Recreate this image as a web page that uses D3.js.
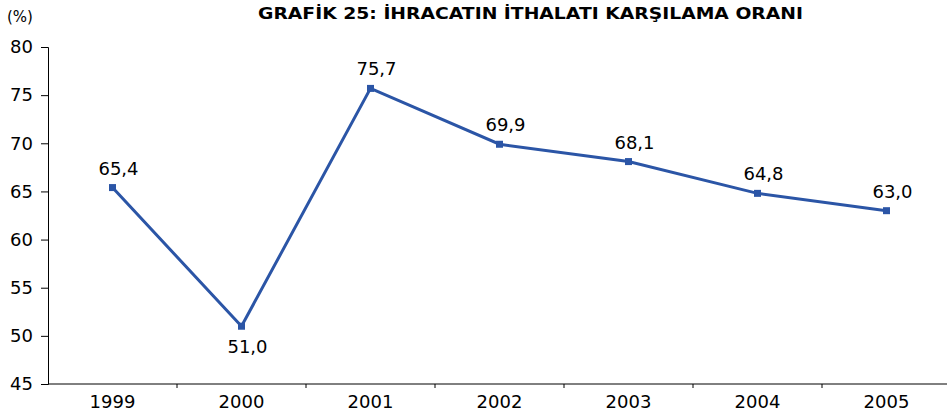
<!DOCTYPE html>
<html>
<head>
<meta charset="utf-8">
<script src="https://cdn.jsdelivr.net/npm/d3@7"></script>
<style>
  body { margin: 0; background: #fff; }
  text { font-family: "DejaVu Sans", Verdana, sans-serif; }
</style>
</head>
<body>
<div id="chart"></div>
<script>
// Export/import coverage ratio (%)
const years = ["1999", "2000", "2001", "2002", "2003", "2004", "2005"];
const ratio = [65.4, 51.0, 75.7, 69.9, 68.1, 64.8, 63.0];
const yTicks = [45, 50, 55, 60, 65, 70, 75, 80];

const width = 947, height = 416;
const font = "'DejaVu Sans', Verdana, sans-serif";

const svg = d3.select("#chart")
  .append("svg")
  .attr("width", width)
  .attr("height", height);

const x = d3.scaleBand()
  .domain(years)
  .range([48, 951]);

const y = d3.scaleLinear()
  .domain([45, 80])
  .range([384, 47]);

// title and unit
svg.append("text")
  .attr("x", 258)
  .attr("y", 19)
  .attr("font-size", "15.5px")
  .attr("font-weight", "bold")
  .attr("textLength", 545)
  .attr("lengthAdjust", "spacingAndGlyphs")
  .text("GRAFİK 25: İHRACATIN İTHALATI KARŞILAMA ORANI");

svg.append("text")
  .attr("x", 7)
  .attr("y", 22)
  .attr("font-size", "15px")
  .text("(%)");

// y axis
const yAxis = svg.append("g")
  .attr("transform", "translate(48,0)")
  .call(d3.axisLeft(y).tickValues(yTicks).tickSize(7).tickPadding(8));
yAxis.selectAll("text").attr("font-size", "18px").attr("fill", "#000")
  .style("font-family", font);
yAxis.selectAll("line, path").attr("stroke", "#000");

// x axis: ticks at the category boundaries
const xAxis = svg.append("g")
  .attr("transform", "translate(0,384)");
xAxis.append("line")
  .attr("x1", 48).attr("x2", width)
  .attr("stroke", "#000");
xAxis.selectAll(".tk")
  .data(years.slice(1))
  .enter()
  .append("line")
  .attr("x1", d => x(d)).attr("x2", d => x(d))
  .attr("y1", 0).attr("y2", 4)
  .attr("stroke", "#000");
xAxis.selectAll(".lbl")
  .data(years)
  .enter()
  .append("text")
  .attr("x", d => x(d) + x.bandwidth() / 2)
  .attr("y", 24)
  .attr("text-anchor", "middle")
  .attr("font-size", "18px")
  .text(d => d);

const cx = d => x(d) + x.bandwidth() / 2;

// line
const line = d3.line()
  .x((d, i) => cx(years[i]))
  .y(d => y(d));

svg.append("path")
  .datum(ratio)
  .attr("d", line)
  .attr("fill", "none")
  .attr("stroke", "#2b55a6")
  .attr("stroke-width", 3);

// markers
svg.selectAll(".mk")
  .data(ratio)
  .enter()
  .append("rect")
  .attr("x", (d, i) => cx(years[i]) - 3.5)
  .attr("y", d => y(d) - 3.5)
  .attr("width", 7)
  .attr("height", 7)
  .attr("fill", "#2b55a6");

// value labels
svg.selectAll(".val")
  .data(ratio)
  .enter()
  .append("text")
  .attr("x", (d, i) => cx(years[i]) + 6)
  .attr("y", (d, i) => i === 1 ? y(d) + 27 : y(d) - 13)
  .attr("text-anchor", "middle")
  .attr("font-size", "18px")
  .text(d => d.toFixed(1).replace(".", ","));
</script>
</body>
</html>
